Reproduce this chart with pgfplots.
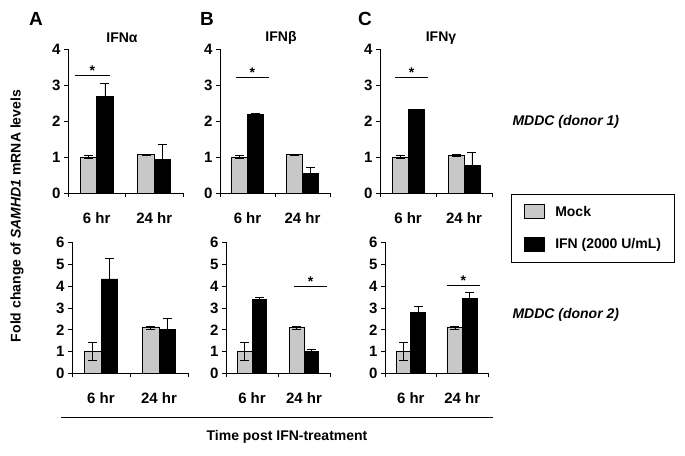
\documentclass[border=0pt]{standalone}
\usepackage{pgfplots}
\pgfplotsset{compat=1.18}
\usepackage{fontspec}
\setmainfont{Liberation Sans}
\definecolor{mockgray}{RGB}{200,200,200}
\newcommand{\fs}{\fontsize{14bp}{16bp}\selectfont\bfseries}
\newcommand{\ft}{\fontsize{15bp}{17bp}\selectfont\bfseries}

\pgfplotsset{
  panel/.style={
    scale only axis, anchor=south west,
    axis lines*=left,
    axis line style={black, line width=0.8bp},
    xmin=0, xmax=2, ymin=0,
    enlargelimits=false,
    xtick={0,1,2}, xticklabels={,,},
    extra x ticks={0.5,1.5}, extra x tick labels={6 hr,24 hr},
    extra x tick style={major tick length=0bp, xticklabel style={yshift=-16bp}},
    major tick length=4bp,
    tick align=outside,
    xtick pos=bottom, ytick pos=left,
    tick style={black, line width=0.8bp},
    /pgf/number format/assume math mode=true,
    tick label style={font=\ft},
    bar width=0.285,
    clip=false,
  },
  mock/.style={ybar, bar shift=0, fill=mockgray, draw=black, line width=0.8bp,
    error bars/.cd, y dir=both, y explicit,
    error bar style={black, line width=0.8bp},
    error mark options={rotate=90, black, line width=0.8bp, mark size=4.5bp}},
  ifn/.style={ybar, bar shift=0, fill=black, draw=black, line width=0.8bp,
    error bars/.cd, y dir=both, y explicit,
    error bar style={black, line width=0.8bp},
    error mark options={rotate=90, black, line width=0.8bp, mark size=4.5bp}},
  top/.style={panel, ymax=4, ytick={0,1,2,3,4}, height=144bp},
  bot/.style={panel, ymax=6, ytick={0,1,2,3,4,5,6}, height=131bp},
}

\begin{document}
\begin{tikzpicture}[x=1bp,y=1bp]
\path (0,0) rectangle (685,456);

% ---------- top row (donor 1) ----------
\begin{axis}[top, at={(68bp,263bp)}, width=115bp]
\addplot[mock] coordinates {(0.3575,1.00) +- (0,0.05) (1.3575,1.06) +- (0,0.02)};
\addplot[ifn] coordinates {(0.6425,2.69) +- (0,0.35) (1.6425,0.93) +- (0,0.42)};
\draw[line width=0.8bp] (axis cs:0.12,3.26) -- (axis cs:0.73,3.26);
\node[font=\fs, anchor=base, inner sep=0] at (axis cs:0.425,3.26) {*};
\end{axis}

\begin{axis}[top, at={(220bp,263bp)}, width=110bp]
\addplot[mock] coordinates {(0.3575,1.00) +- (0,0.05) (1.3575,1.06) +- (0,0.02)};
\addplot[ifn] coordinates {(0.6425,2.17) +- (0,0.05) (1.6425,0.55) +- (0,0.15)};
\draw[line width=0.8bp] (axis cs:0.29,3.22) -- (axis cs:0.89,3.22);
\node[font=\fs, anchor=base, inner sep=0] at (axis cs:0.59,3.22) {*};
\end{axis}

\begin{axis}[top, at={(380bp,263bp)}, width=112bp,
  legend style={at={(1.17,-0.007)}, anchor=north west, draw=black, line width=0.8bp,
    font=\fs, inner xsep=13bp, inner ysep=10bp, row sep=18bp, column sep=10bp,
    nodes={inner sep=0bp}},
  legend cell align=left,
  legend image code/.code={\draw[#1, line width=0.8bp] (0bp,-7bp) rectangle (20bp,7bp);}]
\addplot[mock] coordinates {(0.3575,1.00) +- (0,0.05) (1.3575,1.05) +- (0,0.02)};
\addplot[ifn] coordinates {(0.6425,2.31) +- (0,0.0) (1.6425,0.76) +- (0,0.38)};
\draw[line width=0.8bp] (axis cs:0.27,3.22) -- (axis cs:0.86,3.22);
\node[font=\fs, anchor=base, inner sep=0] at (axis cs:0.565,3.22) {*};
\legend{Mock, IFN (2000 U/mL)}
\end{axis}

% ---------- bottom row (donor 2) ----------
\begin{axis}[bot, at={(72bp,82.5bp)}, width=116bp]
\addplot[mock] coordinates {(0.3575,1.02) +- (0,0.41) (1.3575,2.10) +- (0,0.06)};
\addplot[ifn] coordinates {(0.6425,4.33) +- (0,0.95) (1.6425,2.02) +- (0,0.50)};
\end{axis}

\begin{axis}[bot, at={(226bp,82.5bp)}, width=104bp]
\addplot[mock] coordinates {(0.3575,1.00) +- (0,0.42) (1.3575,2.10) +- (0,0.06)};
\addplot[ifn] coordinates {(0.6425,3.40) +- (0,0.10) (1.6425,1.03) +- (0,0.09)};
\draw[line width=0.8bp] (axis cs:1.31,4.0) -- (axis cs:1.94,4.0);
\node[font=\fs, anchor=base, inner sep=0] at (axis cs:1.625,4.0) {*};
\end{axis}

\begin{axis}[bot, at={(385bp,82.5bp)}, width=103bp]
\addplot[mock] coordinates {(0.3575,1.00) +- (0,0.42) (1.3575,2.10) +- (0,0.06)};
\addplot[ifn] coordinates {(0.6425,2.78) +- (0,0.31) (1.6425,3.42) +- (0,0.30)};
\draw[line width=0.8bp] (axis cs:1.20,4.02) -- (axis cs:1.84,4.02);
\node[font=\fs, anchor=base, inner sep=0] at (axis cs:1.52,4.02) {*};
\end{axis}

% ---------- annotations ----------
\node[font=\fontsize{19bp}{21bp}\selectfont\bfseries] at (36,437.5) {A};
\node[font=\fontsize{19bp}{21bp}\selectfont\bfseries] at (207,437.5) {B};
\node[font=\fontsize{19bp}{21bp}\selectfont\bfseries] at (365,437.5) {C};
\node[font=\fs] at (122,418) {IFNα};
\node[font=\fs] at (281,418) {IFNβ};
\node[font=\fs] at (441,418) {IFNγ};
\node[font=\fs\itshape, anchor=west] at (509,334.5) {MDDC (donor 1)};
\node[font=\fs\itshape, anchor=west] at (509,141) {MDDC (donor 2)};
\node[font=\fs, rotate=90] at (17,240) {Fold change of \textit{SAMHD1} mRNA levels};
\draw[line width=0.8bp] (61,39) -- (493,39);
\node[font=\fs] at (287,19) {Time post IFN-treatment};
\end{tikzpicture}
\end{document}
